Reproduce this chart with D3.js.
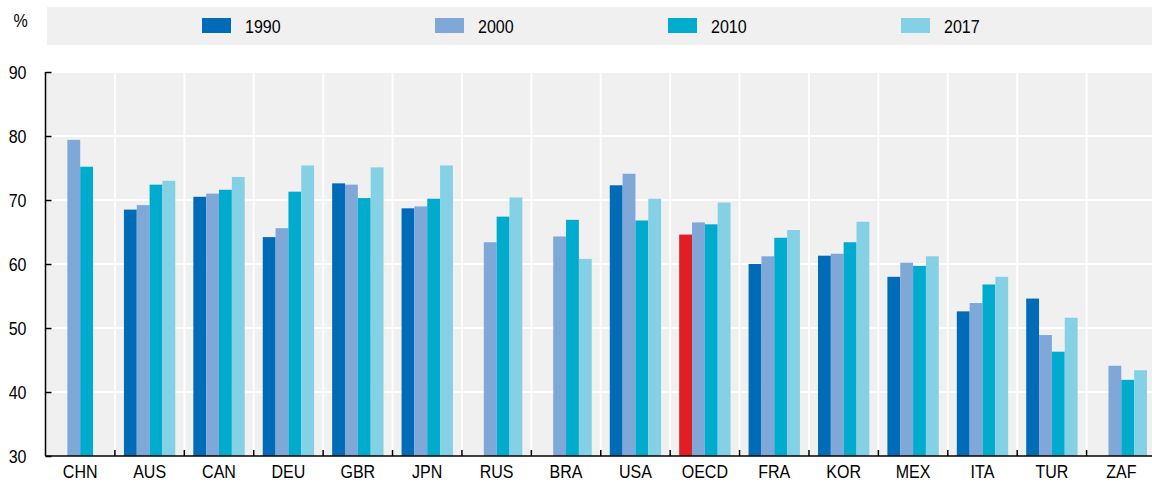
<!DOCTYPE html>
<meta charset="utf-8">
<style>
  body { margin: 0; background: #fff; }
  text { font-family: 'Liberation Sans', Arial, sans-serif; fill: #000; }
</style>
<script src="https://d3js.org/d3.v7.min.js"></script>
<div id="chart"></div>
<script>
// data
var countries = ["CHN", "AUS", "CAN", "DEU", "GBR", "JPN", "RUS", "BRA", "USA", "OECD", "FRA", "KOR", "MEX", "ITA", "TUR", "ZAF"];
var years = ["1990", "2000", "2010", "2017"];
var v1990 = [null, 68.5, 70.5, 64.2, 72.6, 68.7, null, null, 72.3, 64.6, 60.0, 61.3, 58.0, 52.6, 54.6, null];
var v2000 = [79.4, 69.2, 71.0, 65.6, 72.4, 69.0, 63.4, 64.3, 74.1, 66.5, 61.2, 61.6, 60.2, 53.9, 48.9, 44.1];
var v2010 = [75.2, 72.4, 71.6, 71.3, 70.3, 70.2, 67.4, 66.9, 66.8, 66.2, 64.1, 63.4, 59.7, 56.8, 46.3, 41.9];
var v2017 = [null, 73.0, 73.6, 75.4, 75.1, 75.4, 70.4, 60.8, 70.2, 69.6, 65.3, 66.6, 61.2, 58.0, 51.6, 43.4];
var yTicks = [30, 40, 50, 60, 70, 80, 90];

var series = [v1990, v2000, v2010, v2017];
var colors = ["#006bb6", "#7fa8d9", "#00abce", "#84d1e5"];
var highlight = "#e01e24";

var W = 1152, H = 482;
var m = {left: 45.5, right: 1156, top: 72, bottom: 456};
var fs = "18px";

var svg = d3.select("#chart").append("svg")
    .attr("width", W)
    .attr("height", H);

var x = d3.scaleBand()
    .domain(countries)
    .range([m.left, m.right])
    .paddingInner(0.26)
    .paddingOuter(0.13);

var xs = d3.scaleBand()
    .domain(years)
    .range([0, x.bandwidth()]);

var y = d3.scaleLinear()
    .domain([30, 90])
    .range([m.bottom, m.top]);

// legend band
svg.append("rect")
    .attr("x", 47).attr("y", 7)
    .attr("width", W - 47).attr("height", 38)
    .attr("fill", "#f0f0f0");

svg.append("text")
    .attr("x", 13.5).attr("y", 26.5)
    .style("font-size", fs)
    .text("%");

var leg = svg.append("g").selectAll("g")
    .data(years)
    .enter().append("g")
    .attr("transform", function (d, i) { return "translate(" + (202 + i * 233) + ",18)"; });
leg.append("rect")
    .attr("width", 29).attr("height", 15)
    .attr("fill", function (d, i) { return colors[i]; });
leg.append("text")
    .attr("x", 43).attr("y", 15)
    .style("font-size", fs)
    .text(function (d) { return d; });

// plot background + grid
svg.append("rect")
    .attr("x", m.left).attr("y", m.top)
    .attr("width", m.right - m.left).attr("height", m.bottom - m.top)
    .attr("fill", "#f0f0f0");

svg.append("g").selectAll("line")
    .data(yTicks.slice(1))
    .enter().append("line")
    .attr("x1", m.left).attr("x2", m.right)
    .attr("y1", function (d) { return y(d); })
    .attr("y2", function (d) { return y(d); })
    .attr("stroke", "#fff").attr("stroke-width", 2);

var bounds = countries.slice(1).map(function (c) { return x(c) - x.step() * 0.13; });
svg.append("g").selectAll("line")
    .data(bounds)
    .enter().append("line")
    .attr("x1", function (d) { return d; }).attr("x2", function (d) { return d; })
    .attr("y1", m.top).attr("y2", m.bottom)
    .attr("stroke", "#fff").attr("stroke-width", 2);

// bars
var groups = svg.append("g").selectAll("g")
    .data(countries)
    .enter().append("g")
    .attr("transform", function (c) { return "translate(" + x(c) + ",0)"; });

groups.selectAll("rect")
    .data(function (c, i) {
      return years.map(function (yr, j) { return {c: c, yr: yr, j: j, v: series[j][i]}; })
        .filter(function (d) { return d.v != null; });
    })
    .enter().append("rect")
    .attr("x", function (d) { return xs(d.yr); })
    .attr("width", xs.bandwidth())
    .attr("y", function (d) { return y(d.v); })
    .attr("height", function (d) { return y(30) - y(d.v); })
    .attr("fill", function (d) { return (d.c == "OECD" && d.j == 0) ? highlight : colors[d.j]; });

// axes
var yAxis = svg.append("g")
    .attr("transform", "translate(" + m.left + ",0)")
    .call(d3.axisRight(y).tickValues(yTicks).tickSize(6).tickFormat(d3.format("d")));
yAxis.select(".domain").attr("stroke", "#000").attr("stroke-width", 1.5).attr("d", "M0," + m.top + "V" + m.bottom);
yAxis.selectAll(".tick line").attr("stroke", "#000").attr("stroke-width", 1.5);
yAxis.selectAll(".tick text")
    .attr("x", -19).attr("dy", "0.35em")
    .attr("text-anchor", "end")
    .style("font-size", fs)
    .style("font-family", "'Liberation Sans', Arial, sans-serif");

var xAxis = svg.append("g")
    .attr("transform", "translate(0," + m.bottom + ")")
    .call(d3.axisBottom(x).tickSize(0));
xAxis.select(".domain").attr("stroke", "#000").attr("stroke-width", 1.5).attr("d", "M" + m.left + ",0H" + m.right);
xAxis.selectAll(".tick text")
    .attr("y", 22).attr("dy", 0)
    .style("font-size", fs)
    .style("font-family", "'Liberation Sans', Arial, sans-serif");

svg.append("g").selectAll("line")
    .data(bounds)
    .enter().append("line")
    .attr("x1", function (d) { return d; }).attr("x2", function (d) { return d; })
    .attr("y1", m.bottom - 6).attr("y2", m.bottom)
    .attr("stroke", "#000").attr("stroke-width", 1.5);

// the original type is a narrow face: squeeze every label a little
svg.selectAll("text").each(function () {
  var w = this.getComputedTextLength();
  d3.select(this).attr("textLength", w * 0.89).attr("lengthAdjust", "spacingAndGlyphs");
});
</script>
